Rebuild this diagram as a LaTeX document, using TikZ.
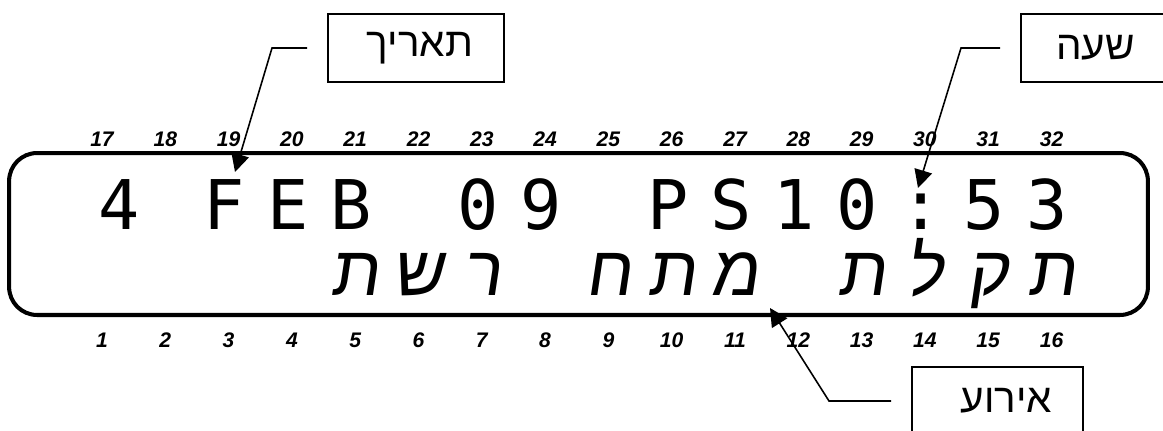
\documentclass[tikz,border=0pt]{standalone}
\usepackage{fontspec}
\usepackage{xcolor}
\usepackage{tikz}
\usetikzlibrary{arrows.meta,positioning}
\TeXXeTstate=1
\setmainfont{Liberation Sans}
\newfontfamily\hebfont[Script=Hebrew]{Liberation Sans}
\newfontfamily\lcdhebfont[Script=Hebrew,FakeSlant=0.15]{Liberation Sans}
\newfontfamily\lcdmonofont{DejaVu Sans Mono}
\definecolor{lcdink}{RGB}{0,0,0}

\begin{document}
\begin{tikzpicture}[x=0.02cm,y=-0.02cm,
  cellnum/.style={font=\fontsize{12}{14}\selectfont\bfseries\itshape,text=lcdink},
  lcdchar/.style={font=\lcdmonofont\fontsize{39}{40}\selectfont,anchor=base,inner sep=0pt,text=lcdink},
  lcdheb/.style={font=\lcdhebfont\fontsize{40}{42}\selectfont,anchor=base,inner sep=0pt,text=lcdink},
  callout/.style={draw=lcdink,line width=1.1pt,inner xsep=0.62cm,minimum height=1.36cm,align=right,
    font=\hebfont\fontsize{23}{26}\selectfont,outer sep=0.42cm},
  leader/.style={draw=lcdink,line width=0.9pt,-{Triangle[length=3.6mm,width=3.6mm]}}]
\useasboundingbox (0,0) rectangle (1163,430);
\clip (0,0) rectangle (1163,430);

\node[draw=lcdink,line width=2.3pt,rounded corners=0.56cm,minimum width=22.78cm,minimum height=3.24cm,inner sep=0pt] (lcd) at (578.5,234) {};

\foreach \k in {1,...,16}{
  \pgfmathtruncatemacro{\t}{\k+16}
  \node[cellnum] (lo\k) at ({102+63.3*(\k-1)},340) {\k};
  \node[cellnum] (hi\t) at ({102+63.3*(\k-1)},139) {\t};
}

\node[lcdchar] (top1) at (119,229) {4};
\foreach \k/\ch in {3/F,4/E,5/B,7/0,8/9,10/P,11/S,12/1,13/0,14/:,15/5,16/3}
  \node[lcdchar] (top\k) at ({98+63.3*(\k-1)},229) {\ch};

\foreach \k/\ch in {5/ת,6/ש,7/ר,9/ח,10/ת,11/מ,13/ת,14/ל,15/ק,16/ת}
  \node[lcdheb] (bot\k) at ({102+63.3*(\k-1)},295) {\ch};

\node[callout,text width=2.28cm] (datebox) at (416,48) {\beginR תאריך\endR};
\node[callout,text width=1.66cm] (hourbox) at (1093.5,48) {\beginR שעה\endR};
\node[callout,text width=2.18cm] (eventbox) at (997.5,401) {\beginR אירוע\endR};

\coordinate (datebend) at (272,48);
\coordinate (datetip) at (235,172);
\coordinate (hourbend) at (961,48);
\coordinate (hourtip) at (918,188);
\coordinate (eventbend) at (829,401);
\coordinate (eventtip) at (770,308);

\draw[leader] (datebox.west) -- (datebend) -- (datetip);
\draw[leader] (hourbox.west) -- (hourbend) -- (hourtip);
\draw[leader] (eventbox.west) -- (eventbend) -- (eventtip);
\end{tikzpicture}
\end{document}
